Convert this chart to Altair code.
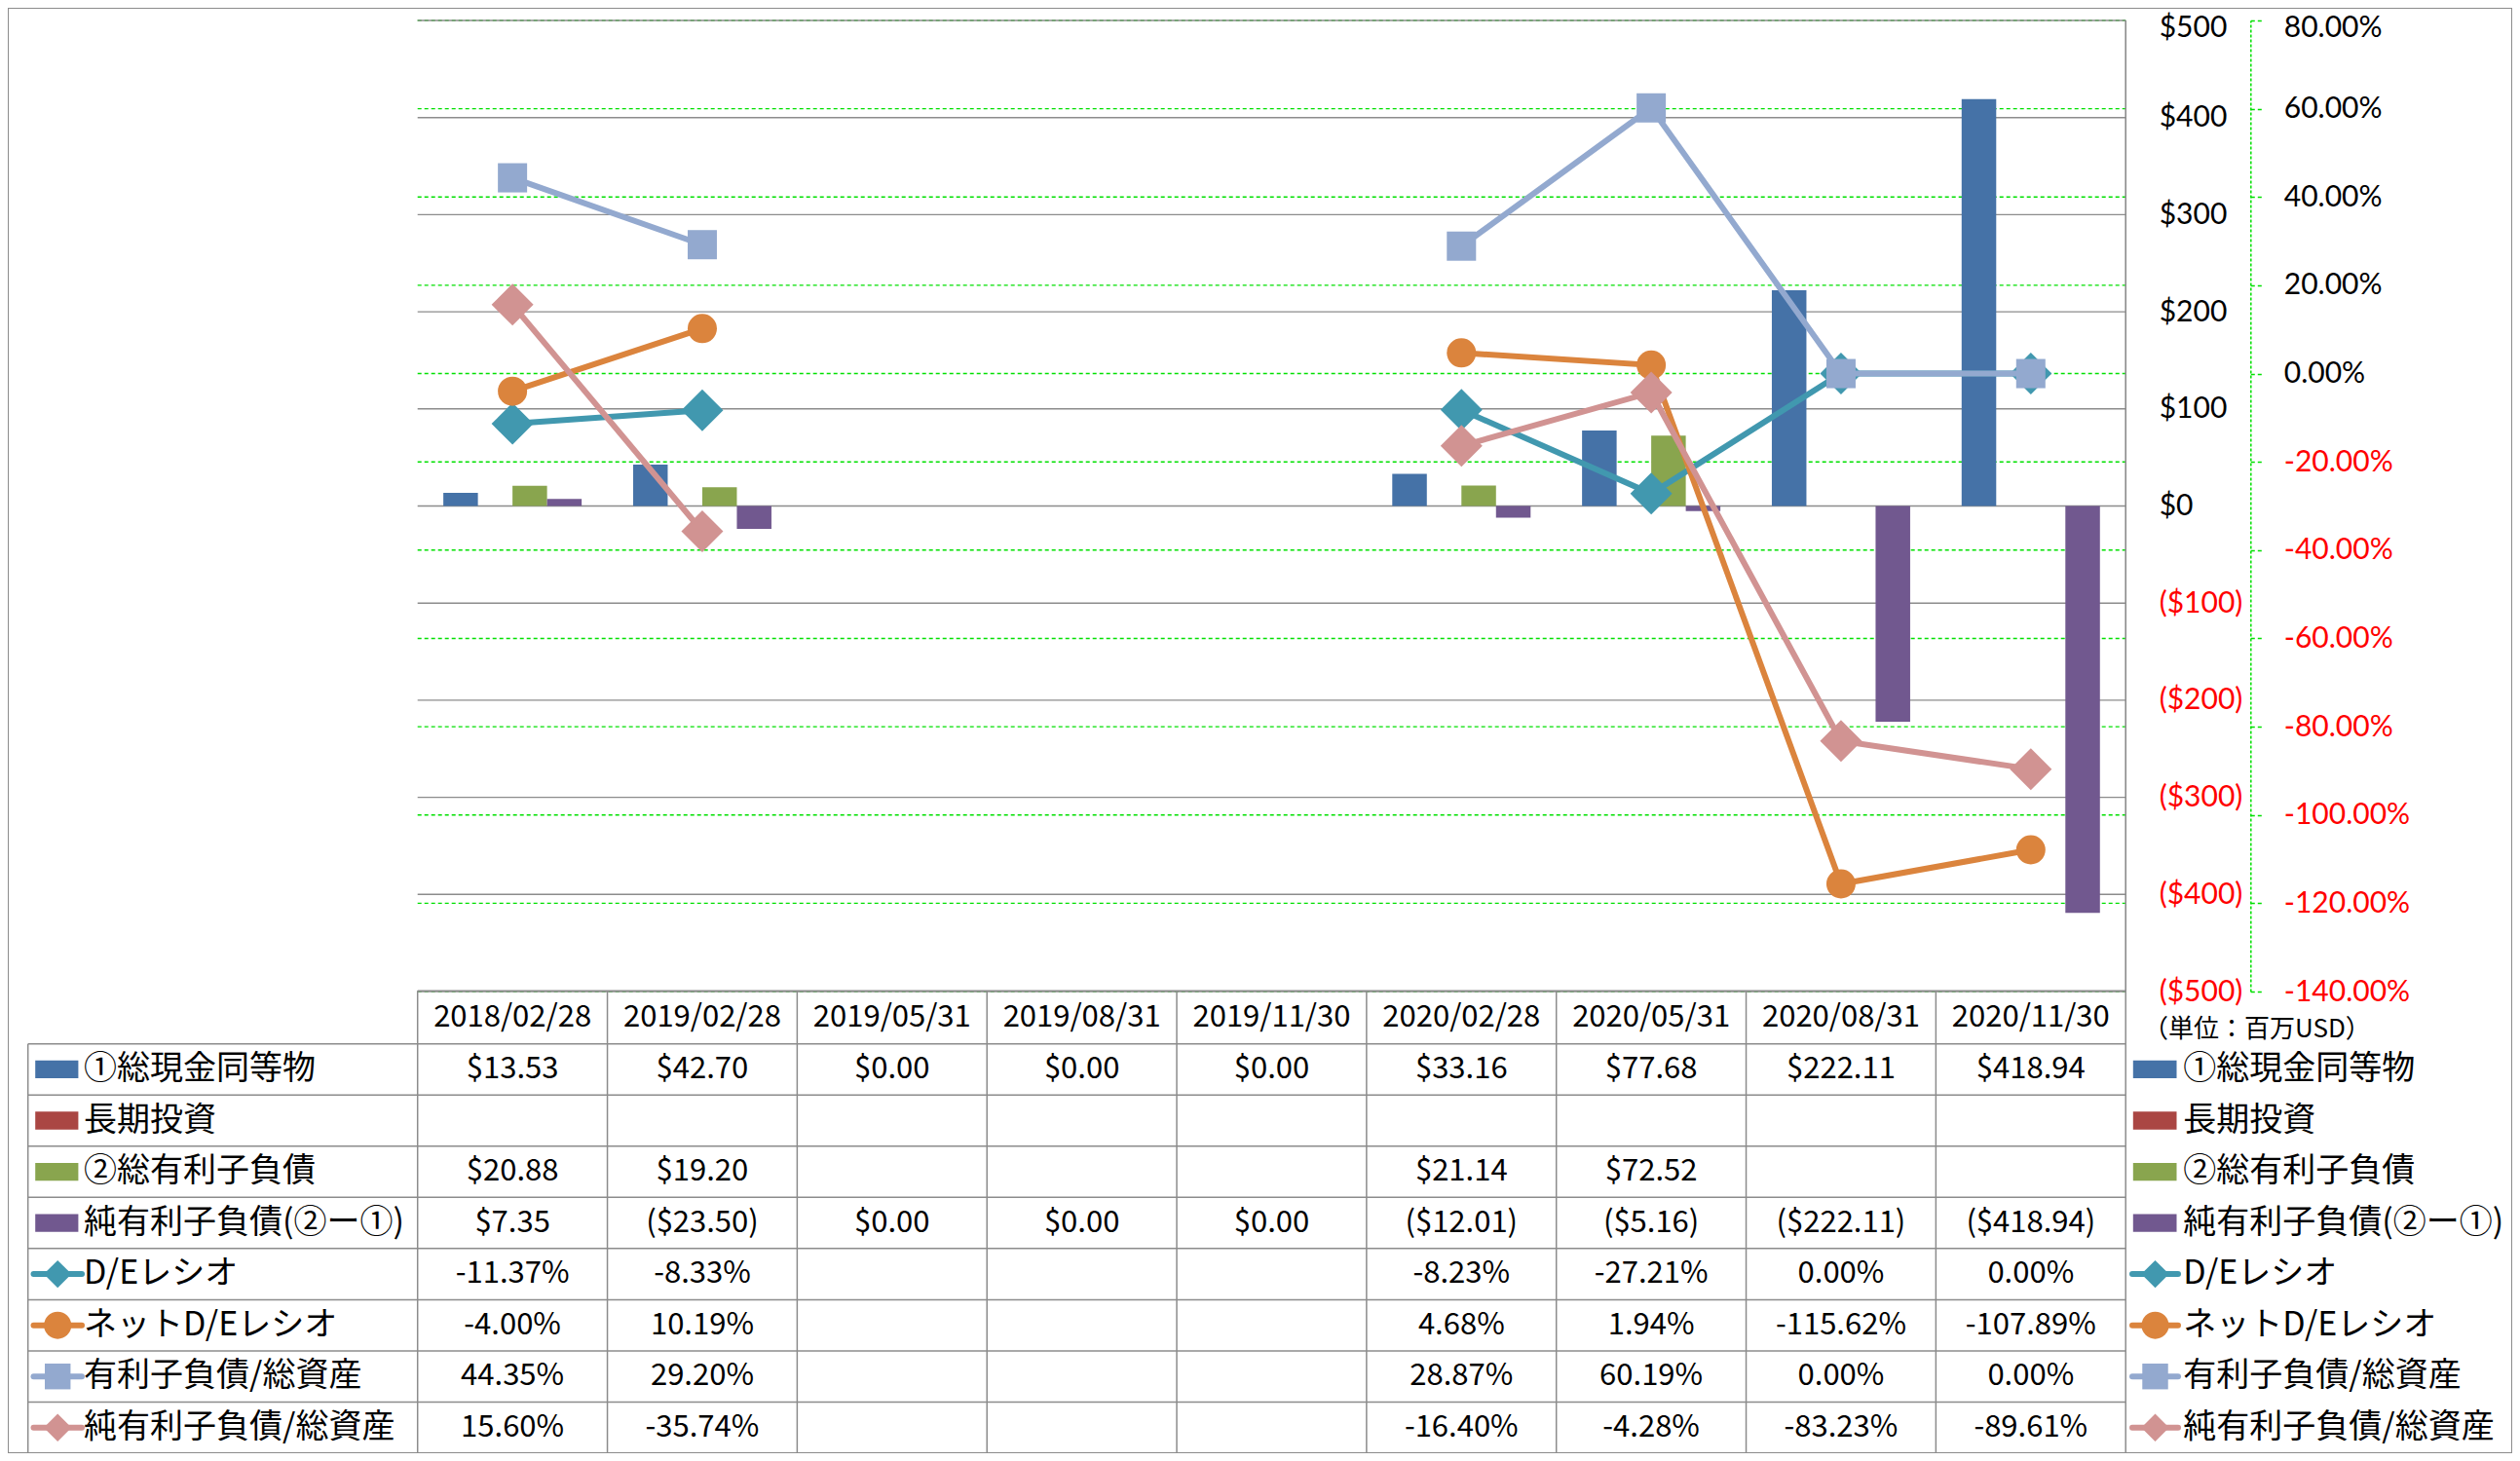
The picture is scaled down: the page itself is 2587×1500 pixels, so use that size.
import altair as alt
import pandas as pd

# ---------------- data ----------------
dates = ["2018/02/28", "2019/02/28", "2019/05/31", "2019/08/31", "2019/11/30",
         "2020/02/28", "2020/05/31", "2020/08/31", "2020/11/30"]

bar_names = ["①総現金同等物", "長期投資", "②総有利子負債", "純有利子負債(②ー①)"]
cash = [13.53, 42.70, 0.00, 0.00, 0.00, 33.16, 77.68, 222.11, 418.94]
lt_invest = [None, None, None, None, None, None, None, None, None]
debt = [20.88, 19.20, None, None, None, 21.14, 72.52, None, None]
net_debt = [7.35, -23.50, 0.00, 0.00, 0.00, -12.01, -5.16, -222.11, -418.94]

line_names = ["D/Eレシオ", "ネットD/Eレシオ", "有利子負債/総資産", "純有利子負債/総資産"]
de_ratio = [-11.37, -8.33, None, None, None, -8.23, -27.21, 0.00, 0.00]
net_de_ratio = [-4.00, 10.19, None, None, None, 4.68, 1.94, -115.62, -107.89]
debt_to_assets = [44.35, 29.20, None, None, None, 28.87, 60.19, 0.00, 0.00]
net_debt_to_assets = [15.60, -35.74, None, None, None, -16.40, -4.28, -83.23, -89.61]

usd_ticks = [-500, -400, -300, -200, -100, 0, 100, 200, 300, 400, 500]
pct_ticks = [-140, -120, -100, -80, -60, -40, -20, 0, 20, 40, 60, 80]
unit_label = "（単位：百万USD）"

bar_series = [cash, lt_invest, debt, net_debt]
line_series = [de_ratio, net_de_ratio, debt_to_assets, net_debt_to_assets]

# ---------------- styles / layout ----------------
bar_colors = ["#4572A7", "#AA4643", "#89A54E", "#71588F"]
line_colors = ["#4198AF", "#DB843D", "#93A9CF", "#D19392"]
line_shapes = ["diamond", "circle", "square", "diamond"]
plot_marker_sizes = [1849, 900, 900, 1849]
legend_marker_sizes = [810, 784, 700, 810]

FONT = "Noto Sans CJK JP"
AXIS_FONT = "Lato"
GRID_GRAY = "#8C8C8C"
GREEN = "#00E000"

PAGE_MARGIN = 8
W = 2587 - 2 * PAGE_MARGIN
H = 1500 - 2 * PAGE_MARGIN


def cx(page_x):
    return page_x - PAGE_MARGIN


def cy(page_y):
    return page_y - PAGE_MARGIN


PLOT_L, PLOT_R = cx(428.7), cx(2182.2)
PLOT_T, PLOT_B = cy(21.0), cy(1018.0)
N = len(dates)
COL_W = (PLOT_R - PLOT_L) / N
U_MIN = -PLOT_L / COL_W
U_MAX = (W - PLOT_L) / COL_W


def U(page_x):
    return (cx(page_x) - PLOT_L) / COL_W


TBL_TOP, ROW0 = cy(1017.3), cy(1071.7)
NROWS = 8
ROW_H = (H - ROW0) / NROWS
R_MIN = -(ROW0 - TBL_TOP) / ROW_H


def R(page_y):
    return (cy(page_y) - ROW0) / ROW_H


BAR_W = 35.5 / COL_W
LABEL_COL_L = U(28.7)

xs = alt.Scale(domain=[U_MIN, U_MAX], range=[0, W], nice=False, zero=False)


def usd_scale():
    return alt.Scale(domain=[usd_ticks[0], usd_ticks[-1]], range=[PLOT_B, PLOT_T], nice=False, zero=False)


def pct_scale():
    return alt.Scale(domain=[pct_ticks[0], pct_ticks[-1]], range=[PLOT_B, PLOT_T], nice=False, zero=False)


def tbl_scale():
    return alt.Scale(domain=[R_MIN, NROWS], range=[TBL_TOP, H], nice=False, zero=False)


red_neg = alt.condition("datum.value < 0", alt.value("#FF0000"), alt.value("#000000"))
usd_top_offset = alt.condition("datum.value >= %d" % usd_ticks[-1], alt.value(7), alt.value(0))
pct_top_offset = alt.condition("datum.value >= %d" % pct_ticks[-1], alt.value(7), alt.value(0))

usd_axis = alt.Axis(
    orient="right", offset=PLOT_R - W, values=usd_ticks, title=None,
    labelExpr="datum.value < 0 ? '($' + format(-datum.value, 'd') + ')' : '$' + format(datum.value, 'd')",
    labelColor=red_neg, labelFont=AXIS_FONT, labelFontSize=30, labelPadding=34,
    labelOffset=usd_top_offset,
    labelAlign="left", labelBaseline="middle", labelOverlap=False,
    ticks=False, domain=False, grid=False,
)
pct_axis = alt.Axis(
    orient="right", offset=cx(2310.3) - W, values=pct_ticks, title=None,
    labelExpr="(datum.value < 0 ? '-' : '') + format(abs(datum.value), '.2f') + '%'",
    labelColor=red_neg, labelFont=AXIS_FONT, labelFontSize=30, labelPadding=23,
    labelOffset=pct_top_offset,
    labelAlign="left", labelBaseline="middle", labelOverlap=False,
    domain=True, domainColor=GREEN, domainDash=[3, 2], domainWidth=1.5,
    ticks=True, tickColor=GREEN, tickDash=[4, 3], tickSize=11, tickWidth=1.5,
    grid=False,
)


def xq(field):
    return alt.X(field, type="quantitative", scale=xs, axis=None)


layers = []

# ---------------- gridlines ----------------
pgrid_df = pd.DataFrame({"v": pct_ticks, "x0": 0, "x1": N})
layers.append(
    alt.Chart(pgrid_df).mark_rule(color=GREEN, strokeWidth=1.4, strokeDash=[4, 3]).encode(
        x=xq("x0"), x2="x1", y=alt.Y("v:Q", scale=pct_scale(), axis=pct_axis)
    )
)
grid_df = pd.DataFrame({"v": usd_ticks, "x0": 0, "x1": N})
layers.append(
    alt.Chart(grid_df).mark_rule(color=GRID_GRAY, strokeWidth=1.4).encode(
        x=xq("x0"), x2="x1", y=alt.Y("v:Q", scale=usd_scale(), axis=usd_axis)
    )
)
border_df = pd.DataFrame({"x": [N], "y0": [usd_ticks[-1]], "y1": [usd_ticks[0]]})
layers.append(
    alt.Chart(border_df).mark_rule(color=GRID_GRAY, strokeWidth=1.6).encode(
        x=xq("x"), y=alt.Y("y0:Q", scale=usd_scale(), axis=None), y2="y1"
    )
)

# ---------------- bars ----------------
for k, (name, vals) in enumerate(zip(bar_names, bar_series)):
    rows = []
    for i, v in enumerate(vals):
        if v is None:
            continue
        x0 = i + 0.5 + (k - 2) * BAR_W
        rows.append({"series": name, "x0": x0, "x1": x0 + BAR_W, "v": v, "base": 0.0})
    if not rows:
        continue
    layers.append(
        alt.Chart(pd.DataFrame(rows)).mark_rect(color=bar_colors[k]).encode(
            x=xq("x0"), x2="x1", y=alt.Y("v:Q", scale=usd_scale(), axis=None), y2="base"
        )
    )

# ---------------- lines ----------------
for k, (name, vals) in enumerate(zip(line_names, line_series)):
    rows = []
    seg = 0
    prev_none = False
    for i, v in enumerate(vals):
        if v is None:
            prev_none = True
            continue
        if prev_none and rows:
            seg += 1
        prev_none = False
        rows.append({"series": name, "x": i + 0.5, "v": v, "seg": seg})
    df = pd.DataFrame(rows)
    layers.append(
        alt.Chart(df).mark_line(color=line_colors[k], strokeWidth=6, strokeCap="round").encode(
            x=xq("x"), y=alt.Y("v:Q", scale=pct_scale(), axis=None), detail="seg:N"
        )
    )
    layers.append(
        alt.Chart(df).mark_point(
            shape=line_shapes[k], filled=True, size=plot_marker_sizes[k],
            color=line_colors[k], opacity=1
        ).encode(x=xq("x"), y=alt.Y("v:Q", scale=pct_scale(), axis=None))
    )

# ---------------- data table ----------------
h_rows = [{"y": R_MIN, "xa": 0, "xb": N}]
for r in range(NROWS + 1):
    h_rows.append({"y": r, "xa": LABEL_COL_L, "xb": N})
layers.append(
    alt.Chart(pd.DataFrame(h_rows)).mark_rule(color=GRID_GRAY, strokeWidth=1.5).encode(
        x=xq("xa"), x2="xb", y=alt.Y("y:Q", scale=tbl_scale(), axis=None)
    )
)
v_rows = [{"x": c, "ya": R_MIN, "yb": NROWS} for c in range(N + 1)]
v_rows.append({"x": LABEL_COL_L, "ya": 0, "yb": NROWS})
layers.append(
    alt.Chart(pd.DataFrame(v_rows)).mark_rule(color=GRID_GRAY, strokeWidth=1.5).encode(
        x=xq("x"), y=alt.Y("ya:Q", scale=tbl_scale(), axis=None), y2="yb"
    )
)


def fmt_usd(v):
    if v is None:
        return ""
    return "(${:,.2f})".format(-v) if v < 0 else "${:,.2f}".format(v)


def fmt_pct(v):
    if v is None:
        return ""
    return "{:.2f}%".format(v)


cells = [{"x": i + 0.5, "y": R_MIN / 2, "t": d} for i, d in enumerate(dates)]
all_names = bar_names + line_names
for r, vals in enumerate(bar_series + line_series):
    f = fmt_usd if r < len(bar_series) else fmt_pct
    for i, v in enumerate(vals):
        s = f(v)
        if s:
            cells.append({"x": i + 0.5, "y": r + 0.5, "t": s})
layers.append(
    alt.Chart(pd.DataFrame(cells)).mark_text(
        font=FONT, fontSize=31, align="center", baseline="middle", color="#000000"
    ).encode(x=xq("x"), y=alt.Y("y:Q", scale=tbl_scale(), axis=None), text="t:N")
)

lab_rows = []
for r, name in enumerate(all_names):
    lab_rows.append({"x": U(86.1), "y": r + 0.5, "t": name})
    lab_rows.append({"x": U(2241.3), "y": r + 0.5, "t": name})
layers.append(
    alt.Chart(pd.DataFrame(lab_rows)).mark_text(
        font=FONT, fontSize=34, align="left", baseline="middle", color="#000000"
    ).encode(x=xq("x"), y=alt.Y("y:Q", scale=tbl_scale(), axis=None), text="t:N")
)
layers.append(
    alt.Chart(pd.DataFrame([{"x": U(2200.0), "y": R(1057.0), "t": unit_label}])).mark_text(
        font=FONT, fontSize=26, align="left", baseline="middle", color="#000000"
    ).encode(x=xq("x"), y=alt.Y("y:Q", scale=tbl_scale(), axis=None), text="t:N")
)

half_h = 9.15 / ROW_H
for k, name in enumerate(bar_names):
    df = pd.DataFrame([
        {"x0": U(36.2), "x1": U(80.4), "y0": k + 0.5 - half_h, "y1": k + 0.5 + half_h},
        {"x0": U(2189.8), "x1": U(2234.5), "y0": k + 0.5 - half_h, "y1": k + 0.5 + half_h},
    ])
    layers.append(
        alt.Chart(df).mark_rect(color=bar_colors[k]).encode(
            x=xq("x0"), x2="x1", y=alt.Y("y0:Q", scale=tbl_scale(), axis=None), y2="y1"
        )
    )
for k, name in enumerate(line_names):
    r = len(bar_names) + k + 0.5
    seg_df = pd.DataFrame([
        {"x0": U(34.5), "x1": U(84.0), "y": r},
        {"x0": U(2189.0), "x1": U(2236.0), "y": r},
    ])
    layers.append(
        alt.Chart(seg_df).mark_rule(color=line_colors[k], strokeWidth=6, strokeCap="round").encode(
            x=xq("x0"), x2="x1", y=alt.Y("y:Q", scale=tbl_scale(), axis=None)
        )
    )
    mk_df = pd.DataFrame([{"x": U(59.2), "y": r}, {"x": U(2212.5), "y": r}])
    layers.append(
        alt.Chart(mk_df).mark_point(
            shape=line_shapes[k], filled=True, size=legend_marker_sizes[k],
            color=line_colors[k], opacity=1
        ).encode(x=xq("x"), y=alt.Y("y:Q", scale=tbl_scale(), axis=None))
    )

chart = (
    alt.layer(*layers)
    .resolve_scale(y="independent")
    .properties(width=W, height=H, padding=0,
                autosize=alt.AutoSizeParams(type="none"),
                background="#FFFFFF")
    .configure_view(stroke=GRID_GRAY, strokeWidth=2)
)

chart.save("out.html", embed_options={"renderer": "svg", "actions": False})
